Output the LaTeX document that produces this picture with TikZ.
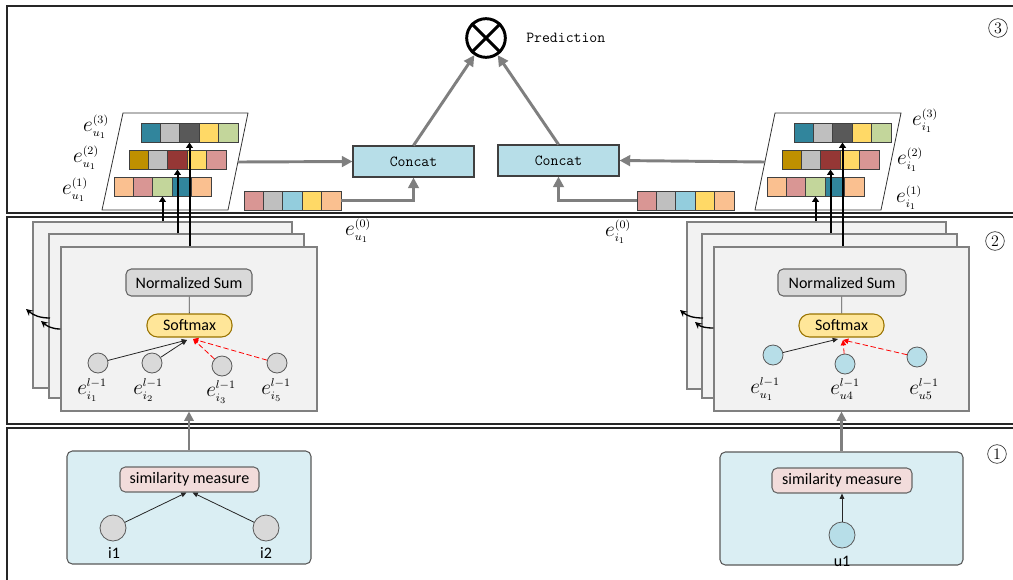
\documentclass[tikz,border=0pt]{standalone}
\usepackage{fix-cm}
\usepackage{fontspec}
\newfontfamily\calfont{Carlito}
\usetikzlibrary{arrows.meta,fit,calc}
\DeclareMathSizes{16}{16}{8.5}{6.5}
\definecolor{panelc}{HTML}{262626}
\definecolor{cteal}{HTML}{31859C}
\definecolor{clgray}{HTML}{BFBFBF}
\definecolor{cdgray}{HTML}{595959}
\definecolor{cyellow}{HTML}{FFD966}
\definecolor{clgreen}{HTML}{C3D69B}
\definecolor{cgold}{HTML}{BF9000}
\definecolor{cdred}{HTML}{953735}
\definecolor{cpink}{HTML}{D99694}
\definecolor{cpeach}{HTML}{FAC090}
\definecolor{clblue}{HTML}{93CDDD}
\definecolor{concatf}{HTML}{B7DEE8}
\definecolor{cardf}{HTML}{F2F2F2}
\definecolor{cardb}{HTML}{808080}
\definecolor{nsumf}{HTML}{D9D9D9}
\definecolor{softf}{HTML}{FFE699}
\definecolor{softb}{HTML}{BF9000}
\definecolor{simf}{HTML}{F2DCDB}
\definecolor{boxf}{HTML}{DAEEF3}
\definecolor{arrg}{HTML}{7F7F7F}
\definecolor{ucirc}{HTML}{B7DEE8}
\newcommand{\vecrow}[4]{%
  \foreach \col [count=\k] in {#4} {
    \node[cell, fill=\col] (#1-\k) at ({#2+(\k-1)*19.4},#3) {};
  }}
\begin{document}
\begin{tikzpicture}[x=0.75pt,y=-0.75pt,
  panel/.style={draw=panelc, line width=1.5pt, inner sep=0pt},
  numc/.style={circle, draw=black!80, line width=0.5pt, minimum size=14pt, inner sep=0pt, font=\fontsize{12}{12}\selectfont},
  cell/.style={draw=black!75, line width=0.7pt, minimum width=14.55pt, minimum height=14.6pt, inner sep=0pt, outer sep=0pt, anchor=north west},
  para/.style={draw=black!80, line width=0.6pt},
  sanst/.style={inner sep=0pt, font=\calfont\fontsize{12}{14}\selectfont},
  monot/.style={inner sep=0pt, font=\ttfamily\fontsize{11.5}{13}\selectfont},
  stxt/.style={label={[sanst]center:#1}},
  mtxt/.style={label={[monot]center:#1}},
  concat/.style={draw=black!75, fill=concatf, line width=0.8pt, inner sep=0pt},
  otimesn/.style={circle, draw=black, line width=2.2pt, minimum size=29pt, inner sep=0pt},
  card/.style={draw=cardb, fill=cardf, line width=0.8pt, inner sep=0pt},
  nsum/.style={draw=black!60, fill=nsumf, line width=0.8pt, rounded corners=4pt, inner sep=0pt},
  soft/.style={draw=softb!80!black, fill=softf, line width=0.8pt, rounded corners=8pt, inner sep=0pt},
  gcirc/.style={circle, draw=black!65, fill=nsumf, line width=0.6pt, minimum size=15pt, inner sep=0pt},
  ucircs/.style={circle, draw=black!65, fill=ucirc, line width=0.6pt, minimum size=15pt, inner sep=0pt},
  gcircb/.style={circle, draw=black!65, fill=nsumf, line width=0.6pt, minimum size=19.5pt, inner sep=0pt},
  ucircb/.style={circle, draw=black!65, fill=ucirc, line width=0.6pt, minimum size=19.5pt, inner sep=0pt},
  simbox/.style={draw=black!65, fill=boxf, line width=0.8pt, rounded corners=4pt, inner sep=0pt},
  simm/.style={draw=black!60, fill=simf, line width=0.8pt, rounded corners=4pt, inner sep=0pt},
  mlab/.style={inner sep=0pt, font=\fontsize{16}{18}\selectfont},
  garrow/.style={draw=arrg, line width=2.2pt, -{Triangle[length=8pt,width=8pt]}},
  garrowb/.style={draw=arrg, line width=1.6pt, -{Triangle[length=7pt,width=7pt]}},
  varrow/.style={draw=black, line width=1.5pt, -{Triangle[length=4pt,width=5pt]}},
  barrow/.style={draw=black!85, line width=0.6pt, -{Triangle[length=4pt,width=3.5pt]}},
  rarrow/.style={draw=red, line width=0.6pt, dash pattern=on 4pt off 2pt, -{Triangle[length=4pt,width=4pt]}},
  carrow/.style={draw=black, line width=1pt, -{Stealth[length=5pt,width=5pt]}},
  thinl/.style={draw=black!70, line width=0.6pt}
]
\useasboundingbox (0,0) rectangle (1013,579);
\clip (0,0) rectangle (1013,579);

% ---------- panels ----------
\node[panel, fit={(7,6)(1040,213)}] (p3) {};
\node[panel, fit={(7,217)(1040,424)}] (p2) {};
\node[panel, fit={(7,428)(1040,600)}] (p1) {};
\node[numc] (n3) at (998,28) {3};
\node[numc] (n2) at (995,241) {2};
\node[numc] (n1) at (997,454) {1};

% ---------- panel 3 ----------
\node[otimesn] (pred) at (486,38) {};
\draw[line width=2.2pt] (pred.north west) -- (pred.south east);
\draw[line width=2.2pt] (pred.north east) -- (pred.south west);
\node[monot, anchor=west] (predl) at (526,38) {Prediction};

\node[concat, mtxt=Concat, fit={(353,146)(474,177)}] (cl) {};
\node[concat, mtxt=Concat, fit={(498,145)(619,176)}] (cr) {};

% left parallelogram with vectors
\draw[para] (123,113) -- (248,113) -- (228,210) -- (102,210) -- cycle;
\vecrow{L3}{141}{123}{cteal,clgray,cdgray,cyellow,clgreen}
\vecrow{L2}{129}{150}{cgold,clgray,cdred,cyellow,cpink}
\vecrow{L1}{114}{177}{cpeach,cpink,clgreen,cteal,cpeach}
\node[mlab] (le3) at (96,127) {$e^{(3)}_{u_1}$};
\node[mlab] (le2) at (86,158) {$e^{(2)}_{u_1}$};
\node[mlab] (le1) at (75,190) {$e^{(1)}_{u_1}$};

% right parallelogram with vectors
\draw[para] (775,113) -- (901,113) -- (881,210) -- (755,210) -- cycle;
\vecrow{R3}{794}{123}{cteal,clgray,cdgray,cyellow,clgreen}
\vecrow{R2}{782}{150}{cgold,clgray,cdred,cyellow,cpink}
\vecrow{R1}{767}{177}{cpeach,cpink,clgreen,cteal,cpeach}
\node[mlab] (re3) at (925,121) {$e^{(3)}_{i_1}$};
\node[mlab] (re2) at (910,160) {$e^{(2)}_{i_1}$};
\node[mlab] (re1) at (909,198) {$e^{(1)}_{i_1}$};

% e^(0) vectors
\vecrow{L0}{244}{191}{cpink,clgray,clblue,cyellow,cpeach}
\vecrow{R0}{637}{191}{cpink,clgray,clblue,cyellow,cpeach}
\node[mlab] (le0) at (358,231) {$e^{(0)}_{u_1}$};
\node[mlab] (re0) at (618,232) {$e^{(0)}_{i_1}$};

\coordinate (lpr) at (238,162);
\coordinate (rpl) at (765,162);
\draw[garrow] (lpr) -- (cl.west);
\draw[garrow] (rpl) -- (cr.east);
\draw[garrow] (L0-5.east) -| (cl.south);
\draw[garrow] (R0-1.west) -| (cr.south);
\draw[garrow] (cl.north) -- (pred);
\draw[garrow] (cr.north) -- (pred);

% ---------- panel 2 left ----------
\node[card, fit={(33,222)(292,388)}] (lcA) {};
\node[card, fit={(49,234)(304,398)}] (lcB) {};
\node[card, fit={(61,247)(317,411)}] (lcC) {};
\node[nsum, stxt=Normalized Sum, fit={(126,269)(252,296)}] (lns) {};
\node[soft, stxt=Softmax, fit={(147,314)(232,337)}] (lsm) {};
\draw[thinl] (lns) -- (lsm);
\node[gcirc] (li1) at (98,363) {};
\node[gcirc] (li2) at (152,363) {};
\node[gcirc] (li3) at (222,366) {};
\node[gcirc] (li5) at (277,363) {};
\node[mlab] (lli1) at (92,390) {$e^{l-1}_{i_1}$};
\node[mlab] (lli2) at (148,390) {$e^{l-1}_{i_2}$};
\node[mlab] (lli3) at (221,392) {$e^{l-1}_{i_3}$};
\node[mlab] (lli5) at (276,390) {$e^{l-1}_{i_5}$};
\coordinate (lsk) at (187,340);
\coordinate (lsr) at (193,339);
\draw[barrow] (li1) -- (lsk);
\draw[barrow] (li2) -- (lsk);
\draw[rarrow] (li3) -- (lsr);
\draw[rarrow] (li5) -- (lsr);
\draw[varrow] (L1-3.south |- lcA.north) -- (L1-3.south);
\draw[varrow] (L2-3.south |- lcB.north) -- (L2-3.south);
\draw[varrow] (L3-3.south |- lcC.north) -- (L3-3.south);
\coordinate (lcu1) at (41,321);
\coordinate (lcu2) at (50,318);
\coordinate (lcu3) at (26,309);
\draw[carrow] (lcC.west |- 0,329) to[out=180,in=-40] (lcu1);
\draw[carrow] (lcu2) to[out=180,in=-40] (lcu3);

% ---------- panel 2 right ----------
\node[card, fit={(687,222)(946,389)}] (rcA) {};
\node[card, fit={(702,234)(957,398)}] (rcB) {};
\node[card, fit={(714,247)(969,411)}] (rcC) {};
\node[nsum, stxt=Normalized Sum, fit={(778,269)(906,296)}] (rns) {};
\node[soft, stxt=Softmax, fit={(799,314)(884,337)}] (rsm) {};
\draw[thinl] (rns) -- (rsm);
\node[ucircs] (ru1) at (773,355) {};
\node[ucircs] (ru4) at (845,364) {};
\node[ucircs] (ru5) at (917,357) {};
\node[mlab] (lru1) at (765,389) {$e^{l-1}_{u_1}$};
\node[mlab] (lru4) at (845,389) {$e^{l-1}_{u4}$};
\node[mlab] (lru5) at (924,389) {$e^{l-1}_{u5}$};
\coordinate (rsk) at (838,339);
\coordinate (rsr) at (843,340);
\draw[barrow] (ru1) -- (rsk);
\draw[rarrow] (ru4) -- (rsr);
\draw[rarrow] (ru5) -- (rsr);
\draw[varrow] (R1-3.south |- rcA.north) -- (R1-3.south);
\draw[varrow] (R2-3.south |- rcB.north) -- (R2-3.south);
\draw[varrow] (R3-3.south |- rcC.north) -- (R3-3.south);
\coordinate (rcu1) at (695,322);
\coordinate (rcu2) at (703,318);
\coordinate (rcu3) at (680,310);
\draw[carrow] (rcC.west |- 0,328) to[out=180,in=-40] (rcu1);
\draw[carrow] (rcu2) to[out=180,in=-40] (rcu3);

% ---------- panel 1 ----------
\node[simbox, fit={(67,451)(311,564)}] (lbox) {};
\node[simm, stxt=similarity measure, fit={(120,467)(259,492)}] (lsim) {};
\node[gcircb] (ci1) at (113,528) {};
\node[gcircb] (ci2) at (266,528) {};
\node[sanst] (ti1) at (114,553) {i1};
\node[sanst] (ti2) at (266,553) {i2};
\draw[barrow] (ci1) -- ($(lsim.south)+(-3,0)$);
\draw[barrow] (ci2) -- ($(lsim.south)+(3,0)$);

\node[simbox, fit={(720,452)(963,565)}] (rbox) {};
\node[simm, stxt=similarity measure, fit={(772,468)(912,493)}] (rsim) {};
\node[ucircb] (cu1) at (842,535) {};
\node[sanst] (tu1) at (842,561) {u1};
\draw[barrow] (cu1) -- (rsim.south);

\draw[garrowb] (lbox.north) -- (lcC.south);
\draw[garrowb] (rbox.north) -- (rcC.south);
\end{tikzpicture}
\end{document}
